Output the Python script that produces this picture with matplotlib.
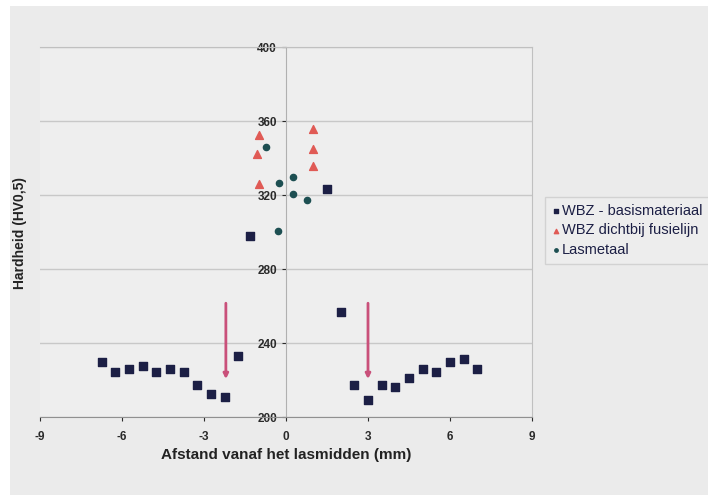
import matplotlib

matplotlib.use("Agg")

import matplotlib.pyplot as plt
from matplotlib.patches import Rectangle

plt.rcParams["font.family"] = ["Liberation Sans", "DejaVu Sans"]
plt.rcParams["font.weight"] = "bold"
plt.rcParams["axes.unicode_minus"] = False

# WBZ - basismateriaal
base_x = [-6.75, -6.25, -5.75, -5.25, -4.75, -4.25, -3.75, -3.25, -2.75, -2.25, -1.75, -1.3,
          1.5, 2.0, 2.5, 3.0, 3.5, 4.0, 4.5, 5.0, 5.5, 6.0, 6.5, 7.0]
base_y = [229.5, 224.5, 226, 227.5, 224.5, 226, 224.5, 217.5, 212.5, 211, 233, 298,
          323.5, 257, 217.5, 209, 217.5, 216, 221, 226, 224.5, 229.5, 231.5, 226]

# WBZ dichtbij fusielijn
fus_x = [-1.0, -1.05, -1.0, 1.0, 1.0, 1.0]
fus_y = [352.5, 342, 326, 355.5, 345, 335.5]

# Lasmetaal
las_x = [-0.75, -0.27, 0.25, 0.25, 0.75, -0.28]
las_y = [346, 326.5, 329.5, 320.5, 317.5, 300.5]

arrow_x = [-2.2, 3.0]
arrow_top = 263
arrow_bottom = 219

fig = plt.figure(figsize=(7.08, 4.95), dpi=100, facecolor="white")
fig.patches.append(Rectangle((10 / 708, 0), 1, (495 - 6) / 495, transform=fig.transFigure,
                             facecolor="#ebebeb", edgecolor="none", zorder=-5))
ax = fig.add_axes([40 / 708, 78 / 495, 492 / 708, 370 / 495])
ax.set_facecolor("#eeeeee")

ax.scatter(base_x, base_y, marker="s", s=32, color="#1c1f45", label="WBZ - basismateriaal", zorder=3)
ax.scatter(fus_x, fus_y, marker="^", s=32, color="#e05a55", label="WBZ dichtbij fusielijn", zorder=3)
ax.scatter(las_x, las_y, marker="o", s=20, color="#1d4f52", label="Lasmetaal", zorder=3)

for xa in arrow_x:
    ax.annotate("", xy=(xa, arrow_bottom), xytext=(xa, arrow_top),
                arrowprops=dict(arrowstyle="-|>", color="#c9507a", lw=2.0, mutation_scale=7),
                zorder=2)

ax.set_xlim(-9, 9)
ax.set_ylim(200, 400)
ax.set_xticks([-9, -6, -3, 0, 3, 6, 9])
ax.set_yticks([200, 240, 280, 320, 360, 400])
ax.yaxis.grid(True, color="#c8c8c8", lw=1.0)
ax.set_axisbelow(True)

ax.spines["left"].set_position(("data", 0))
ax.spines["left"].set_color("#b0b0b0")
ax.spines["bottom"].set_color("#909090")
ax.spines["top"].set_color("#c0c0c0")
ax.spines["right"].set_color("#c0c0c0")
ax.tick_params(axis="both", labelsize=8.5, colors="#2a2a2a", length=3)
ax.tick_params(axis="x", pad=7)

ax.set_xlabel("Afstand vanaf het lasmidden (mm)", fontsize=11, fontweight="bold", color="#222222", labelpad=4)
fig.text(20 / 708, 0.53, "Hardheid (HV0,5)", rotation=90, ha="center", va="center",
         fontsize=10, fontweight="bold", color="#222222")

leg = ax.legend(loc="upper left", bbox_to_anchor=(545 / 708, 298 / 495), bbox_transform=fig.transFigure,
                fontsize=10.5, frameon=True, fancybox=False, borderpad=0.45, handletextpad=0.1,
                handlelength=0.6, labelspacing=0.4, markerscale=0.55, borderaxespad=0)
leg.get_frame().set_facecolor("#eeeeee")
leg.get_frame().set_edgecolor("#cccccc")
for t in leg.get_texts():
    t.set_fontweight("normal")
    t.set_color("#1c1f45")

fig.savefig("out.png", dpi=100, facecolor=fig.get_facecolor())
plt.close(fig)
